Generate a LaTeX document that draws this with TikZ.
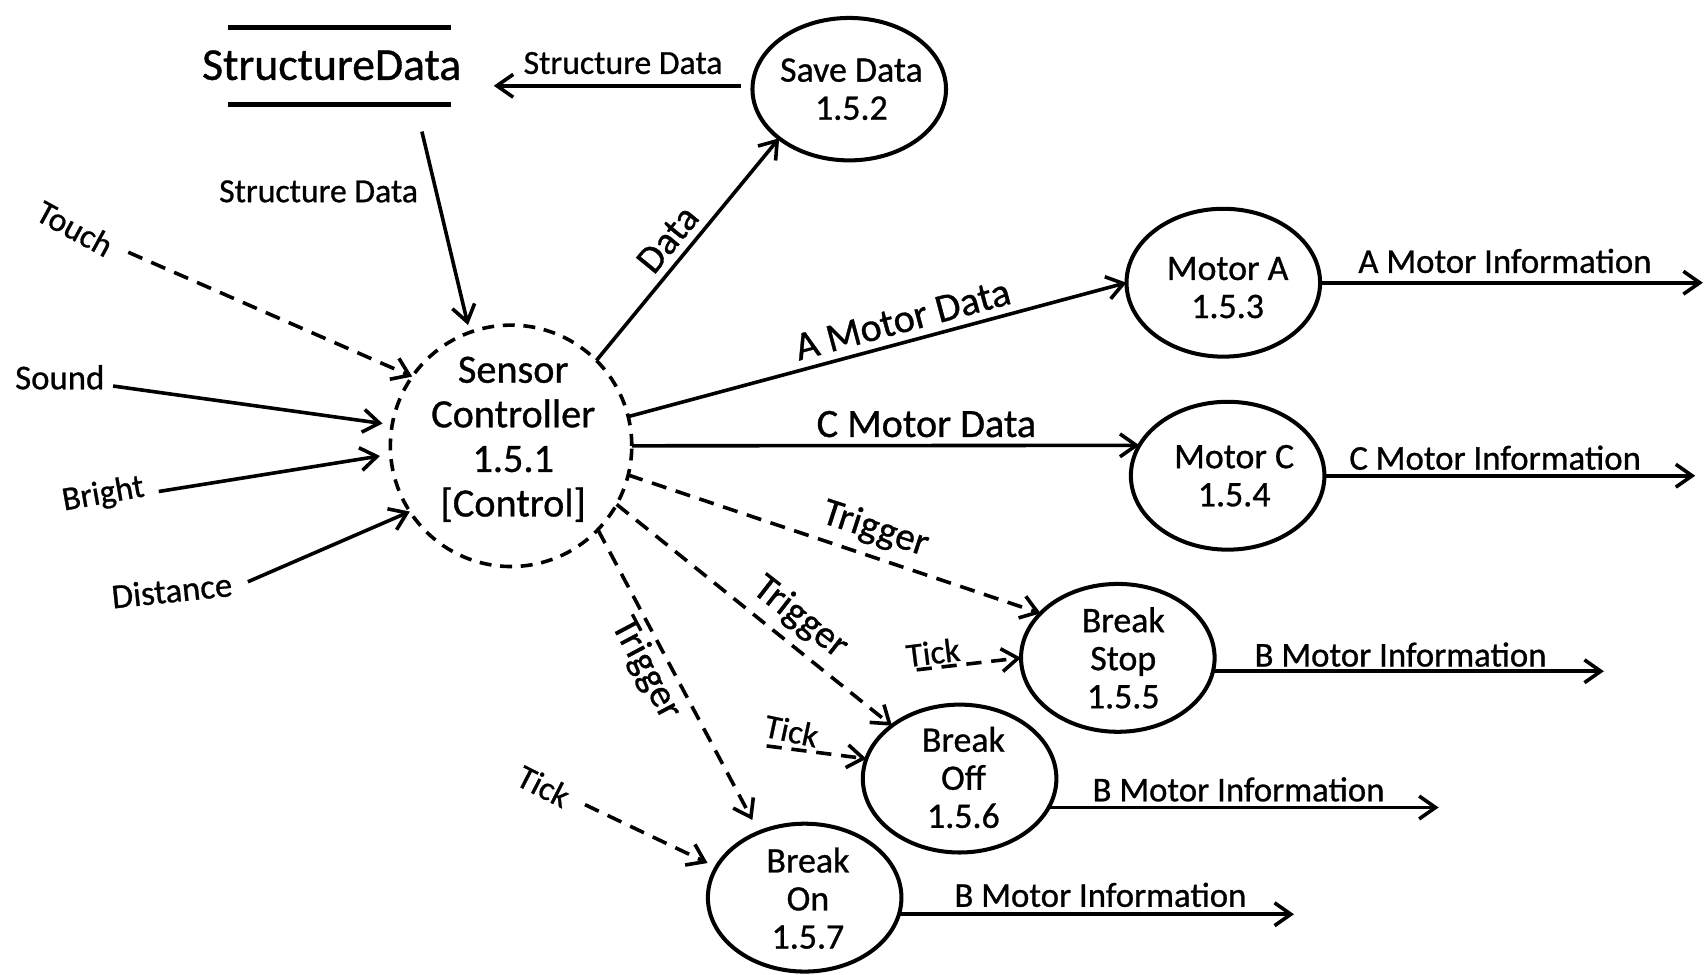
\documentclass[tikz,border=0pt]{standalone}
\usepackage{fontspec}
\setmainfont{Carlito}[FakeBold=0.8]
\usetikzlibrary{arrows.meta,shapes.geometric}
\begin{document}
\begin{tikzpicture}[x=1pt,y=-1pt,
  every node/.style={inner sep=0pt, outer sep=0pt},
  proc/.style={draw, ellipse, line width=3.7pt, minimum width=178pt, minimum height=136pt},
  ptext/.style={align=center, font=\fontsize{33}{35}\selectfont},
  lab/.style={font=\fontsize{32}{34}\selectfont},
  slab/.style={font=\fontsize{31}{33}\selectfont},
  big/.style={font=\fontsize{37}{39}\selectfont},
  trig/.style={font=\fontsize{36}{38}\selectfont},
  arr/.style={line width=3.3pt, -{Straight Barb[length=15pt,width=21pt]}},
  darr/.style={arr, dash pattern=on 14pt off 9pt},
]
\useasboundingbox (0,0) rectangle (1568,896);

% data store
\node[font=\fontsize{42}{44}\selectfont] (store) at (305,60) {StructureData};
\draw[line width=4.5pt] (210,25) -- (415,25) (210,96) -- (415,96);

% processes
\node[proc, minimum height=131pt] (saveD) at (781,82) {};
\node[ptext] (saveDt) at (783,82) {Save Data\\1.5.2};

\node[draw, circle, line width=3.3pt, dash pattern=on 11pt off 8pt, minimum size=222pt] (sensor) at (470,410) {};
\node[align=center, font=\fontsize{37}{41}\selectfont] (sensort) at (472,404) {Sensor\\Controller\\1.5.1\\{}[Control]};

\node[proc] (motA) at (1125,260) {};
\node[ptext] (motAt) at (1129,264.5) {Motor A\\1.5.3};
\node[proc] (motC) at (1129,437.5) {};
\node[ptext] (motCt) at (1135,437.5) {Motor C\\1.5.4};
\node[proc] (bstop) at (1028,605) {};
\node[ptext] (bstopt) at (1033,605) {Break\\Stop\\1.5.5};
\node[proc] (boff) at (882.5,716) {};
\node[ptext] (bofft) at (886,715) {Break\\Off\\1.5.6};
\node[proc] (bon) at (740,825.5) {};
\node[ptext] (bont) at (743,826) {Break\\On\\1.5.7};

% inputs
\node[slab, rotate=-28.6] (touch) at (69,210) {Touch};
\node[lab] (sound) at (55,347) {Sound};
\node[slab, rotate=10] (bright) at (95,455) {Bright};
\node[lab, rotate=6] (dist) at (158,543) {Distance};
\draw[darr] ([shift={(49,22)}]touch.center) -- (sensor.145);
\draw[arr, shorten >=9pt] ([shift={(49,8)}]sound.center) -- (sensor.170);
\draw[arr, shorten >=10pt] ([shift={(51,-3)}]bright.center) -- (sensor.184);
\draw[arr] ([shift={(70,-8)}]dist.center) -- (sensor.213);

% structure data flows
\draw[arr, shorten >=7pt] ([shift={(83,61)}]store.center) -- (sensor.110);
\node[slab] (sdl2) at (293,176) {Structure Data};
\draw[arr, shorten <=11pt, shorten >=30pt] (saveD.178) -- (saveD.178 -| store.east);
\node[slab] (sdl1) at (573,58) {Structure Data};

% data
\draw[arr] (sensor.45) -- (saveD.215);
\node[trig, rotate=50.7] (datal) at (614,220) {Data};

% motor data
\draw[arr] (sensor.14) -- (motA.west);
\node[big, rotate=15] (amd) at (830,294) {A Motor Data};
\draw[arr] (sensor.east) -- (motC.161.4);
\node[big] (cmd) at (852,390) {C Motor Data};

% triggers
\draw[darr] (sensor.346) -- (bstop.150);
\draw[darr] (sensor.331) -- (boff.142);
\draw[darr, shorten >=13pt] (sensor.316) -- (bon.125);
\node[trig, rotate=-18] (tr1) at (805,487) {Trigger};
\node[trig, rotate=-38] (tr2) at (736,568) {Trigger};
\node[trig, rotate=-62] (tr3) at (594,615) {Trigger};

% ticks
\node[slab, rotate=7] (tk1) at (858,600) {Tick};
\draw[darr] ([shift={(-15,16)}]tk1.center) -- (bstop.west);
\node[slab, rotate=-12] (tk2) at (728,672) {Tick};
\draw[darr] ([shift={(-23,14)}]tk2.center) -- (boff.168);
\node[slab, rotate=-27] (tk3) at (500,723) {Tick};
\draw[darr, shorten >=9pt] ([shift={(38,17)}]tk3.center) -- (bon.161);

% outputs
\draw[arr] (motA.east) -- (motA.east -| 1566,0);
\node[lab] (ami) at (1384,240) {A Motor Information};
\draw[arr] (motC.east) -- (motC.east -| 1559,0);
\node[lab] (cmi) at (1375,421) {C Motor Information};
\draw[arr] (bstop.352) -- (bstop.352 -| 1475,0);
\node[lab] (bmi1) at (1288,602) {B Motor Information};
\draw[arr] (boff.342.6) -- (boff.342.6 -| 1323,0);
\node[lab] (bmi2) at (1139,726) {B Motor Information};
\draw[arr] (bon.350.6) -- (bon.350.6 -| 1190,0);
\node[lab] (bmi3) at (1012,823) {B Motor Information};
\end{tikzpicture}
\end{document}
